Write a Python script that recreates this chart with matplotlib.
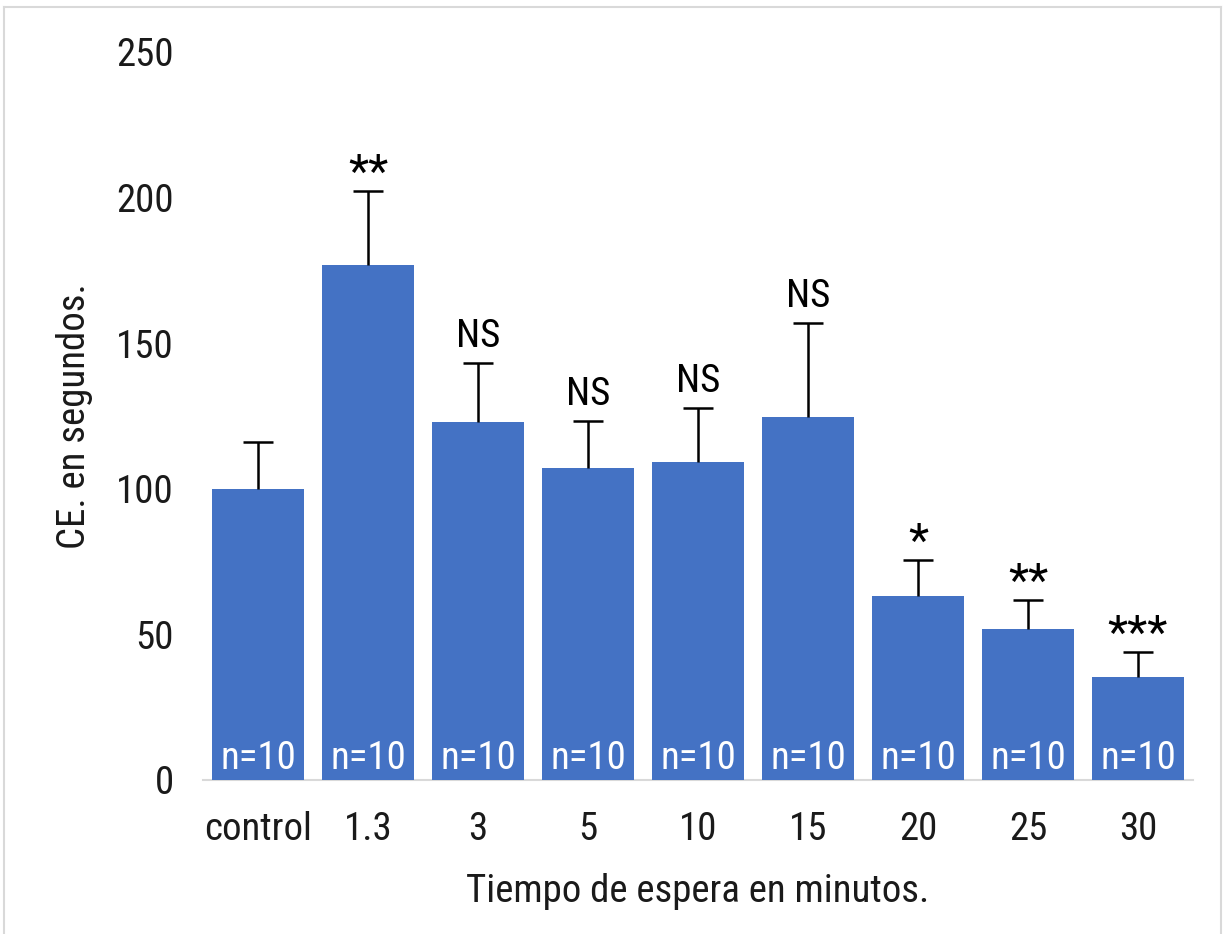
import matplotlib
matplotlib.use("Agg")
import matplotlib.pyplot as plt
from matplotlib.lines import Line2D
import numpy as np

# Data
categories = ["control", "1.3", "3", "5", "10", "15", "20", "25", "30"]
means = [100, 177, 122.8, 107.1, 109.2, 124.8, 63.2, 51.9, 35.3]
sem = [16, 25.4, 20.4, 16.3, 18.5, 32.1, 12.2, 10.0, 8.8]
significance = ["", "**", "NS", "NS", "NS", "NS", "*", "**", "***"]
sample_sizes = [10, 10, 10, 10, 10, 10, 10, 10, 10]
y_ticks = [0, 50, 100, 150, 200, 250]

plt.rcParams["font.family"] = ["Liberation Sans Narrow", "Roboto Condensed",
                               "Archivo Narrow", "Liberation Sans", "DejaVu Sans"]

W, H, DPI = 1225, 934, 100
fig = plt.figure(figsize=(W / DPI, H / DPI), dpi=DPI)
ax = fig.add_axes([203 / W, 1 - 780 / H, (1193 - 203) / W, (780 - 52) / H])

bar_color = "#4472C4"
text_color = "#1a1a1a"
fs = 28

x = np.arange(len(categories))
ax.bar(x, means, width=0.836, color=bar_color, zorder=2)
_, caps, _ = ax.errorbar(x, means, yerr=[np.zeros(len(sem)), sem], fmt="none",
                         ecolor="black", elinewidth=1.8, capsize=10.8, capthick=1.8, zorder=3)
# keep only the upper caps
for cap in caps:
    if np.allclose(cap.get_ydata(), means):
        cap.set_visible(False)

for i, (m, e, s, n) in enumerate(zip(means, sem, significance, sample_sizes)):
    if s == "NS":
        ax.annotate(s, (i, m + e), xytext=(0, 11.5), textcoords="offset points",
                    ha="center", va="baseline", fontsize=fs, color="black")
    elif s:
        ax.annotate(s, (i, m + e), xytext=(0, 3), textcoords="offset points",
                    ha="center", va="baseline", fontsize=fs * 1.2, color="black")
    ax.annotate(f"n={n}", (i, 0), xytext=(0, 8), textcoords="offset points",
                ha="center", va="baseline", fontsize=fs, color="white", zorder=4)

ax.set_xlim(-0.5, len(categories) - 0.5)
ax.set_ylim(0, 250)
ax.set_yticks(y_ticks)
ax.set_yticklabels([str(t) for t in y_ticks])
ax.set_xticks(x)
ax.set_xticklabels(categories)
ax.tick_params(axis="y", length=0, pad=21, labelsize=fs, labelcolor=text_color)
ax.tick_params(axis="x", length=0, pad=22, labelsize=fs, labelcolor=text_color)

for side in ["left", "right", "top"]:
    ax.spines[side].set_visible(False)
ax.spines["bottom"].set_color("#D9D9D9")
ax.spines["bottom"].set_linewidth(1.5)
ax.spines["bottom"].set_zorder(1)

ax.set_ylabel("CE. en segundos.", fontsize=fs, color=text_color)
ax.yaxis.set_label_coords(-110 / 990, 0.5)
ax.set_xlabel("Tiempo de espera en minutos.", fontsize=fs, color=text_color, labelpad=18)

# Chart-area border
border = "#D9D9D9"
fig.add_artist(Line2D([4 / W, 4 / W], [0, 1 - 7 / H], transform=fig.transFigure, color=border, lw=1.5))
fig.add_artist(Line2D([4 / W, 1221 / W], [1 - 7 / H, 1 - 7 / H], transform=fig.transFigure, color=border, lw=1.5))
fig.add_artist(Line2D([1221 / W, 1221 / W], [0, 1 - 7 / H], transform=fig.transFigure, color=border, lw=1.5))

fig.savefig("out.png", dpi=DPI, facecolor="white")
